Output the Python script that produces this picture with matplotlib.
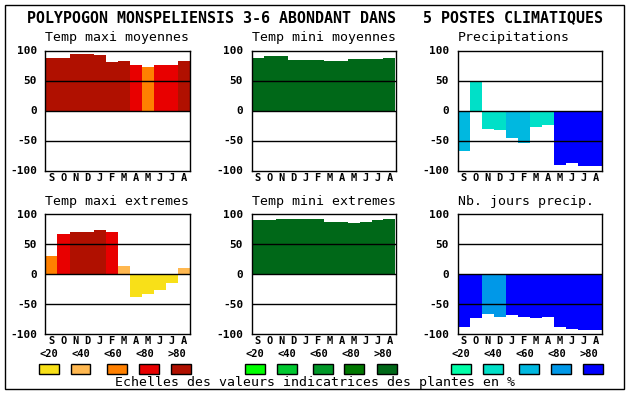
import matplotlib
matplotlib.use('Agg')
import matplotlib.pyplot as plt
from matplotlib.patches import Rectangle

W, H = 630, 394

months = ['S', 'O', 'N', 'D', 'J', 'F', 'M', 'A', 'M', 'J', 'J', 'A']
scale_labels = ['<20', '<40', '<60', '<80', '>80']

# palettes (classes <20 .. >80)
pal_tmax = ['#f8e018', '#ffb850', '#ff8000', '#e80000', '#b01000']
pal_tmin = ['#00ff00', '#00c830', '#009828', '#007800', '#006818']
pal_prec = ['#00ffa8', '#00e0c8', '#00b8e0', '#0098e8', '#0000ff']

tmax_moy = [88, 88, 94, 94, 93, 81, 83, 76, 73, 76, 76, 83]
tmax_moy_cls = [4, 4, 4, 4, 4, 4, 4, 3, 2, 3, 3, 4]

tmin_moy = [88, 91, 91, 84, 84, 84, 83, 83, 86, 86, 86, 88]
tmin_moy_cls = [4] * 12

precip = [-67, 47, -31, -33, -46, -54, -27, -24, -91, -87, -92, -92]
precip_cls = [2, 1, 1, 1, 2, 2, 1, 1, 4, 4, 4, 4]

tmax_ext = [30, 67, 70, 70, 74, 70, 13, -38, -33, -26, -15, 10]
tmax_ext_cls = [2, 3, 4, 4, 4, 3, 1, 0, 0, 0, 0, 1]

tmin_ext = [90, 90, 92, 92, 92, 92, 87, 87, 85, 87, 90, 92]
tmin_ext_cls = [4] * 12

nb_jours = [-88, -73, -66, -71, -69, -71, -73, -71, -88, -91, -93, -93]
nb_jours_cls = [4, 4, 3, 3, 4, 4, 4, 4, 4, 4, 4, 4]

MONO = 'DejaVu Sans Mono'


def fx(x):
    return x / W


def fy(y):
    return 1 - y / H


def panel(fig, left, top, title, vals, cls, pal):
    w, h = 144, 120
    ax = fig.add_axes([fx(left), fy(top + h), w / W, h / H])
    x = list(range(len(vals)))
    ax.bar(x, vals, width=1.0, color=[pal[c] for c in cls], linewidth=0, zorder=1)
    ax.set_xlim(-0.5, 11.5)
    ax.set_ylim(-100, 100)
    for yy in (-50, 0, 50):
        ax.axhline(yy, color='black', lw=1, zorder=2)
    ax.set_yticks([-100, -50, 0, 50, 100])
    ax.set_yticklabels(['-100', '-50', '0', '50', '100'],
                       fontfamily=MONO, fontweight='bold', fontsize=8)
    ax.set_xticks(x)
    ax.set_xticklabels(months, fontfamily=MONO, fontweight='bold', fontsize=7.5)
    ax.tick_params(axis='both', length=0)
    ax.tick_params(axis='y', pad=6)
    ax.tick_params(axis='x', pad=1.5)
    for s in ax.spines.values():
        s.set_linewidth(1)
        s.set_zorder(3)
    fig.text(fx(left), fy(top - 13), title, fontfamily=MONO, fontsize=9.5,
             ha='left', va='center')
    return ax


def legend(fig, left, pal):
    offs = [-7, 25, 61, 93, 125]
    loffs = [3, 35, 67, 99, 131]
    for i in range(5):
        fig.text(fx(left + loffs[i]), fy(354), scale_labels[i], fontfamily=MONO,
                 fontweight='bold', fontsize=7.5, ha='center', va='center')
        fig.patches.append(Rectangle((fx(left + offs[i]), fy(374)), 20 / W, 10 / H,
                                     transform=fig.transFigure, facecolor=pal[i],
                                     edgecolor='black', lw=1))


fig = plt.figure(figsize=(W / 100, H / 100), dpi=100)
fig.patches.append(Rectangle((fx(5), fy(389)), 619 / W, 384 / H,
                             transform=fig.transFigure, fill=False,
                             edgecolor='black', lw=1))

fig.text(fx(27), fy(18), 'POLYPOGON MONSPELIENSIS 3-6 ABONDANT DANS   5 POSTES CLIMATIQUES',
         fontfamily=MONO, fontweight='bold', fontsize=10.8, ha='left', va='center')

panel(fig, 45.5, 50.5, 'Temp maxi moyennes', tmax_moy, tmax_moy_cls, pal_tmax)
panel(fig, 251.5, 50.5, 'Temp mini moyennes', tmin_moy, tmin_moy_cls, pal_tmin)
panel(fig, 457.5, 50.5, 'Precipitations', precip, precip_cls, pal_prec)
panel(fig, 45.5, 214, 'Temp maxi extremes', tmax_ext, tmax_ext_cls, pal_tmax)
panel(fig, 251.5, 214, 'Temp mini extremes', tmin_ext, tmin_ext_cls, pal_tmin)
panel(fig, 457.5, 214, 'Nb. jours precip.', nb_jours, nb_jours_cls, pal_prec)

legend(fig, 45.5, pal_tmax)
legend(fig, 251.5, pal_tmin)
legend(fig, 457.5, pal_prec)

fig.text(fx(315), fy(382.5), 'Echelles des valeurs indicatrices des plantes en %',
         fontfamily=MONO, fontsize=9.5, ha='center', va='center')

fig.savefig('out.png', dpi=100)
